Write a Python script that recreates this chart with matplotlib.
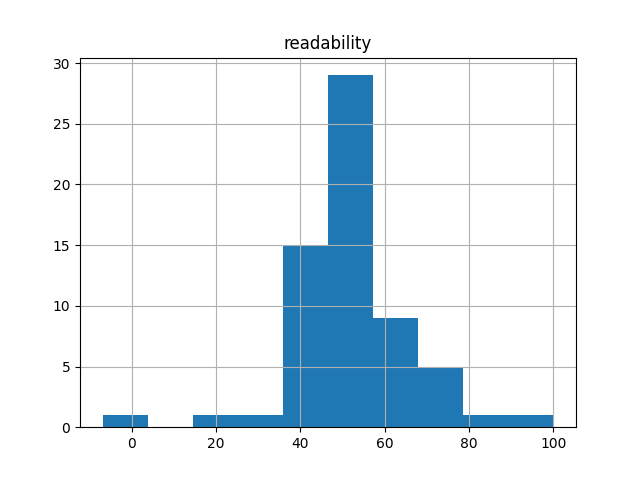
import numpy as np
import matplotlib
matplotlib.use('Agg')
import matplotlib.pyplot as plt

# readability histogram: 10 bins between min and max value
data_min = -6.9
data_max = 100.0
counts = [1, 0, 1, 1, 15, 29, 9, 5, 1, 1]

edges = np.linspace(data_min, data_max, len(counts) + 1)
centers = (edges[:-1] + edges[1:]) / 2

fig, ax = plt.subplots(figsize=(6.4, 4.8), dpi=100)
ax.hist(centers, bins=edges, weights=counts)
ax.set_title('readability')
ax.grid(True)

fig.savefig('out.png', dpi=100)
